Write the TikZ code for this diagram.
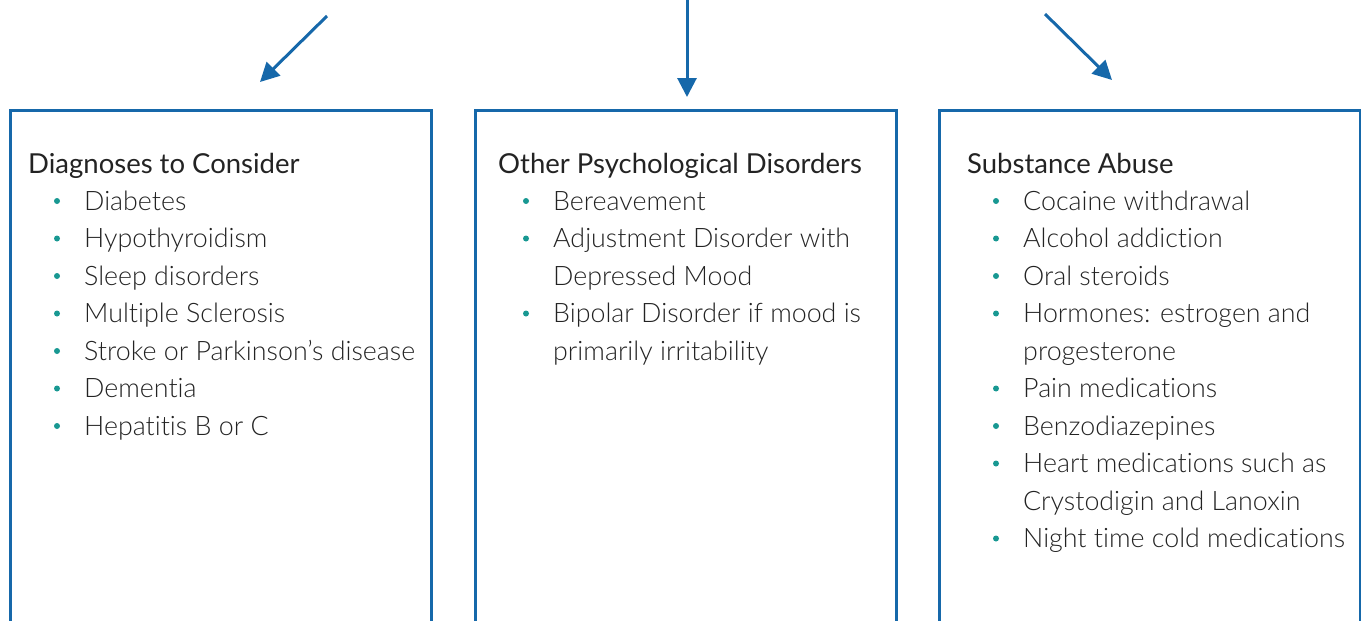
\documentclass[tikz,border=0pt]{standalone}
\usepackage{fontspec}
\setmainfont[Ligatures=NoCommon]{Lato}
\newfontfamily\lightfont[Ligatures=NoCommon]{Lato Light}
\usetikzlibrary{arrows.meta,positioning,calc}
\definecolor{boxblue}{RGB}{22,104,170}
\definecolor{dotteal}{RGB}{24,152,146}
\definecolor{inkgray}{RGB}{35,35,35}
\newcommand{\headsize}{\fontsize{27.5}{37.5}\selectfont}
\newcommand{\itemsize}{\fontsize{26.8}{37.5}\selectfont}
\newcommand{\listitem}[3]{
	\node[dot] (#1dot) at ($(#2)+(-27,-9)$) {};
	\node[entry] (#1) at (#2) {\begin{tabular}[t]{@{}l@{}}#3\end{tabular}};
}

\begin{document}
\begin{tikzpicture}[x=1pt,y=-1pt,
	frame/.style={draw=boxblue, line width=2.6pt, minimum width=421pt, minimum height=600pt, anchor=north west, inner sep=0pt},
	head/.style={anchor=base west, inner sep=0pt, font=\headsize, text=inkgray},
	entry/.style={anchor=base west, inner sep=0pt, font=\lightfont\itemsize, text=inkgray},
	dot/.style={circle, fill=dotteal, minimum size=6pt, inner sep=0pt},
	flow/.style={draw=boxblue, line width=3pt, -{Triangle[length=19pt,width=19pt]}}]
	\useasboundingbox (0,0) rectangle (1361,621);
	\clip (0,0) rectangle (1361,621);

	\node[frame] (diag) at (9,109) {};
	\node[frame] (psych) at (474,109) {};
	\node[frame] (subst) at (938,109) {};

	\coordinate (diagtail) at (327,16);
	\coordinate (diagtip) at (260,82);
	\coordinate (psychtail) at (687,0);
	\coordinate (psychtip) at (687,97);
	\coordinate (substtail) at (1045,14);
	\coordinate (substtip) at (1112,80);

	\draw[flow] (diagtail) -- (diagtip);
	\draw[flow] (psychtail) -- (psychtip);
	\draw[flow] (substtail) -- (substtip);

	\node[head] (diaghead) at (28,173) {Diagnoses to Consider};
	\listitem{d1}{84,210}{Diabetes}
	\listitem{d2}{84,247.5}{Hypothyroidism}
	\listitem{d3}{84,285}{Sleep disorders}
	\listitem{d4}{84,322.5}{Multiple Sclerosis}
	\listitem{d5}{84,360}{Stroke or Parkinson’s disease}
	\listitem{d6}{84,397.5}{Dementia}
	\listitem{d7}{84,435}{Hepatitis B or C}

	\node[head] (psychhead) at (498,173) {Other Psychological Disorders};
	\listitem{p1}{553,210}{Bereavement}
	\listitem{p2}{553,247.5}{Adjustment Disorder with\\Depressed Mood}
	\listitem{p3}{553,322.5}{Bipolar Disorder if mood is\\primarily irritability}

	\node[head] (substhead) at (967,173) {Substance Abuse};
	\listitem{s1}{1023,210}{Cocaine withdrawal}
	\listitem{s2}{1023,247.5}{Alcohol addiction}
	\listitem{s3}{1023,285}{Oral steroids}
	\listitem{s4}{1023,322.5}{Hormones: estrogen and\\progesterone}
	\listitem{s5}{1023,397.5}{Pain medications}
	\listitem{s6}{1023,435}{Benzodiazepines}
	\listitem{s7}{1023,472.5}{Heart medications such as\\Crystodigin and Lanoxin}
	\listitem{s8}{1023,547.5}{Night time cold medications}
\end{tikzpicture}
\end{document}
